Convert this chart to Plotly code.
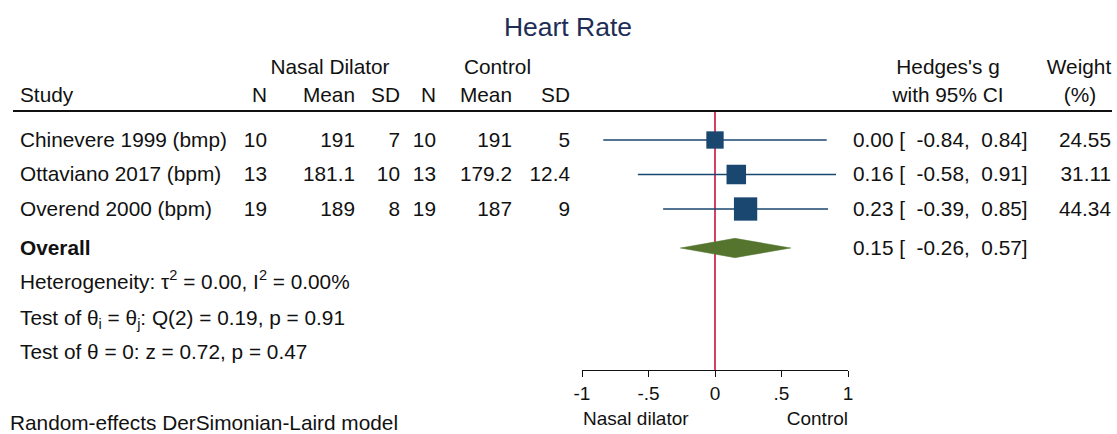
import plotly.graph_objects as go

# ---------------- data ----------------
studies = ["Chinevere 1999 (bmp)", "Ottaviano 2017 (bpm)", "Overend 2000 (bpm)"]
n_trt = [10, 13, 19]
mean_trt = ["191", "181.1", "189"]
sd_trt = ["7", "10", "8"]
n_ctl = [10, 13, 19]
mean_ctl = ["191", "179.2", "187"]
sd_ctl = ["5", "12.4", "9"]
g = [0.00, 0.16, 0.23]
ci_lo = [-0.84, -0.58, -0.39]
ci_hi = [0.84, 0.91, 0.85]
weights = [24.55, 31.11, 44.34]
overall_g = 0.15
overall_lo = -0.26
overall_hi = 0.57
het_lines = [
    "Heterogeneity: τ<sup>2</sup> = 0.00, I<sup>2</sup> = 0.00%",
    "Test of θ<sub>i</sub> = θ<sub>j</sub>: Q(2) = 0.19, p = 0.91",
    "Test of θ = 0: z = 0.72, p = 0.47",
]
col_headers = ["N", "Mean", "SD", "N", "Mean", "SD"]
tick_vals = [-1, -0.5, 0, 0.5, 1]
tick_text = ["-1", "-.5", "0", ".5", "1"]
title_text = "Heart Rate"
footnote = "Random-effects DerSimonian-Laird model"
favours_left = "Nasal dilator"
favours_right = "Control"

# ---------------- layout constants ----------------
W, H = 1117, 434
FONT = "Liberation Sans, Arial, sans-serif"
FS = 20.8
FS_AX = 19
TXT = "#111111"
NAVY = "#1a476f"
OLIVE = "#55752f"
RED = "#c8103e"
ROW_PX = 34.5
ROW0_PX = 140
AXIS_PX = 370
TEXT_DY = 1.8  # px: optical centring of text vs. marks


def row_of(px):
    return (px - ROW0_PX) / ROW_PX


y_top = row_of(0)
y_bot = row_of(H)
rows = list(range(len(studies)))
overall_row = row_of(248)
het_rows = [row_of(282), row_of(318), row_of(352)]
hdr1 = row_of(67)
hdr2 = row_of(95)
rule_row = row_of(111)
axis_row = row_of(AXIS_PX)
tdy = TEXT_DY / ROW_PX

fig = go.Figure()

# CI lines
for i, r in enumerate(rows):
    fig.add_trace(go.Scatter(x=[ci_lo[i], ci_hi[i]], y=[r, r], mode="lines",
                             line=dict(color=NAVY, width=1.6), hoverinfo="skip",
                             showlegend=False))
# squares (area proportional to weight)
fig.add_trace(go.Scatter(x=g, y=rows, mode="markers",
                         marker=dict(symbol="square", color=NAVY, opacity=1,
                                     size=[3.5 * w ** 0.5 for w in weights],
                                     line=dict(width=0)),
                         hoverinfo="skip", showlegend=False))
# diamond
dh = 0.28
fig.add_trace(go.Scatter(x=[overall_lo, overall_g, overall_hi, overall_g, overall_lo],
                         y=[overall_row, overall_row - dh, overall_row, overall_row + dh, overall_row],
                         mode="lines", fill="toself", fillcolor=OLIVE,
                         line=dict(color=OLIVE, width=0.5), hoverinfo="skip",
                         showlegend=False))

# ---------------- text (on a pixel-unit helper x axis) ----------------
L = {"x": [], "y": [], "t": []}   # left aligned
R = {"x": [], "y": [], "t": []}   # right aligned
C = {"x": [], "y": [], "t": []}   # centred


def put(d, x, y, t):
    d["x"].append(x)
    d["y"].append(y + tdy)
    d["t"].append(t)


cols_x = [267, 355, 400, 436, 512, 570]
put(C, 330, hdr1, "Nasal Dilator")
put(C, 497.5, hdr1, "Control")
put(L, 20, hdr2, "Study")
for x, h in zip(cols_x, col_headers):
    put(R, x, hdr2, h)
put(C, 948, hdr1, "Hedges's g")
put(C, 948, hdr2, "with 95% CI")
put(C, 1079, hdr1, "Weight")
put(C, 1080, hdr2, "(%)")

NB = "\u00a0"
for i, r in enumerate(rows):
    put(L, 20, r, studies[i])
    vals = [str(n_trt[i]), mean_trt[i], sd_trt[i], str(n_ctl[i]), mean_ctl[i], sd_ctl[i]]
    for x, v in zip(cols_x, vals):
        put(R, x, r, v)
    put(L, 853, r, f"{g[i]:.2f}{NB}[{NB}{NB}{ci_lo[i]:.2f},{NB}{NB}{ci_hi[i]:.2f}]")
    put(R, 1111, r, f"{weights[i]:.2f}")

put(L, 20, overall_row, "<b>Overall</b>")
put(L, 853, overall_row, f"{overall_g:.2f}{NB}[{NB}{NB}{overall_lo:.2f},{NB}{NB}{overall_hi:.2f}]")
for r, t in zip(het_rows, het_lines):
    put(L, 20, r, t)
put(L, 10, row_of(423.5), footnote)

for d, pos in [(L, "middle right"), (R, "middle left"), (C, "middle center")]:
    fig.add_trace(go.Scatter(x=d["x"], y=d["y"], text=d["t"], mode="text",
                             textposition=pos, xaxis="x2", yaxis="y",
                             textfont=dict(family=FONT, size=FS, color=TXT),
                             cliponaxis=False, hoverinfo="skip", showlegend=False))
# favours labels (slightly smaller, like the axis labels)
fig.add_trace(go.Scatter(x=[583, 848], y=[row_of(418) + tdy, row_of(418) + tdy],
                         text=[favours_left, favours_right], mode="text",
                         textposition=["middle right", "middle left"], xaxis="x2", yaxis="y",
                         textfont=dict(family=FONT, size=FS_AX, color=TXT),
                         cliponaxis=False, hoverinfo="skip", showlegend=False))
fig.add_trace(go.Scatter(x=[568], y=[row_of(28) + tdy], text=[title_text], mode="text",
                         textposition="middle center", xaxis="x2", yaxis="y",
                         textfont=dict(family=FONT, size=26.5, color="#1e2d55"),
                         cliponaxis=False, hoverinfo="skip", showlegend=False))

shapes = [
    # no-effect line
    dict(type="line", xref="x", yref="y", x0=0, x1=0, y0=rule_row, y1=axis_row,
         line=dict(color=RED, width=1.6), layer="below"),
    # header rule
    dict(type="line", xref="x2", yref="y", x0=13, x1=1112,
         y0=rule_row, y1=rule_row, line=dict(color=TXT, width=2)),
]

fig.update_layout(
    template=go.layout.Template(),
    width=W, height=H, margin=dict(l=0, r=0, t=0, b=0, pad=0, autoexpand=False),
    autosize=False,
    paper_bgcolor="white", plot_bgcolor="rgba(0,0,0,0)",
    shapes=shapes, showlegend=False,
    xaxis=dict(domain=[582 / W, 848 / W], range=[-1, 1], showgrid=False,
               anchor="free", position=1 - AXIS_PX / H, side="bottom", automargin=False,
               zeroline=False, showline=True, linecolor=TXT, linewidth=1.3,
               ticks="outside", ticklen=6, tickwidth=1.3, tickcolor=TXT,
               tickvals=tick_vals, ticktext=tick_text,
               tickfont=dict(family=FONT, size=FS_AX, color=TXT), fixedrange=True),
    xaxis2=dict(domain=[0, 1], range=[0, W], anchor="y", visible=False,
                automargin=False, fixedrange=True),
    yaxis=dict(domain=[0, 1], range=[y_bot, y_top], visible=False,
               automargin=False, fixedrange=True),
)

fig.write_html("out.html", config={"displayModeBar": False, "responsive": False})
